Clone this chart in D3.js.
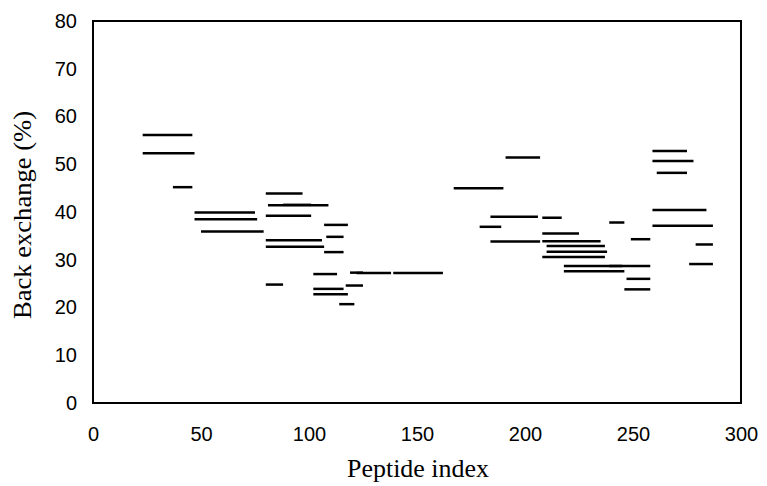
<!DOCTYPE html>
<html>
<head>
<meta charset="utf-8">
<script src="https://cdn.jsdelivr.net/npm/d3@7"></script>
<style>
  body { margin: 0; background: #fff; }
  #chart { width: 767px; height: 486px; }
</style>
</head>
<body>
<div id="chart"></div>
<script>
// peptide segments: start index, end index, back exchange (%)
const segStart = [23, 23, 37, 47, 47, 50, 80, 81, 88, 80, 107, 108, 80, 80, 107, 102, 80, 117, 102, 102,
  114, 119, 122, 139, 167, 191, 184, 208, 179, 184, 208, 208, 210, 210, 208, 218, 239, 218, 239, 249,
  247, 246, 259, 259, 261, 259, 259, 279, 276]
const segEnd = [46, 47, 46, 75, 76, 79, 97, 109, 101, 101, 118, 116, 106, 107, 116, 113, 88, 125, 116, 118,
  121, 125, 138, 162, 190, 207, 206, 217, 189, 207, 225, 235, 237, 238, 237, 245, 258, 246, 246, 258,
  258, 258, 275, 278, 275, 284, 287, 287, 287]
const segValue = [56.1, 52.3, 45.2, 39.9, 38.5, 35.9, 43.9, 41.4, 41.5, 39.2, 37.3, 34.8, 34.1, 32.7, 31.6, 27.0, 24.8, 24.6, 23.9, 22.8,
  20.7, 27.3, 27.2, 27.2, 45.0, 51.4, 39.0, 38.8, 36.9, 33.8, 35.5, 33.9, 32.9, 31.7, 30.6, 28.7, 28.7, 27.6, 37.8, 34.3,
  26.0, 23.8, 52.8, 50.7, 48.2, 40.4, 37.1, 33.2, 29.1]

const xTicks = [0, 50, 100, 150, 200, 250, 300]
const yTicks = [0, 10, 20, 30, 40, 50, 60, 70, 80]

const margin = { top: 21, right: 26, bottom: 83, left: 93 },
  width = 767 - margin.left - margin.right,
  height = 486 - margin.top - margin.bottom

const data = segStart.map((s, i) => ({ start: s, end: segEnd[i], value: segValue[i] }))

const svg = d3
  .select('#chart')
  .append('svg')
  .attr('width', 767)
  .attr('height', 486)

const g = svg.append('g').attr('transform', `translate(${margin.left},${margin.top})`)

const x = d3.scaleLinear().domain([0, 300]).range([0, width])
const y = d3.scaleLinear().domain([0, 80]).range([height, 0])

// segments
g.selectAll('line.seg')
  .data(data)
  .join('line')
  .attr('class', 'seg')
  .attr('x1', d => x(d.start))
  .attr('x2', d => x(d.end))
  .attr('y1', d => y(d.value))
  .attr('y2', d => y(d.value))
  .attr('stroke', '#000')
  .attr('stroke-width', 2.5)

// plot frame
g.append('rect')
  .attr('width', width)
  .attr('height', height)
  .attr('fill', 'none')
  .attr('stroke', '#000')
  .attr('stroke-width', 2)

// axes (no tick marks, labels only)
const xAxis = g.append('g')
  .attr('transform', `translate(0,${height})`)
  .call(d3.axisBottom(x).tickValues(xTicks).tickSize(0).tickPadding(24))
const yAxis = g.append('g')
  .call(d3.axisLeft(y).tickValues(yTicks).tickSize(0).tickPadding(16))

;[xAxis, yAxis].forEach(a => {
  a.select('.domain').remove()
  a.selectAll('text')
    .attr('font-family', 'Liberation Sans, Arial, sans-serif')
    .attr('font-size', 20)
    .attr('fill', '#000')
})

// axis titles
svg.append('text')
  .attr('x', margin.left + width / 2 + 1)
  .attr('y', 477)
  .attr('text-anchor', 'middle')
  .attr('font-family', 'Liberation Serif, Times New Roman, serif')
  .attr('font-size', 25)
  .attr('textLength', 142)
  .attr('lengthAdjust', 'spacingAndGlyphs')
  .text('Peptide index')

svg.append('text')
  .attr('transform', `translate(31,215) rotate(-90)`)
  .attr('text-anchor', 'middle')
  .attr('font-family', 'Liberation Serif, Times New Roman, serif')
  .attr('font-size', 25)
  .attr('textLength', 208)
  .attr('lengthAdjust', 'spacingAndGlyphs')
  .text('Back exchange (%)')
</script>
</body>
</html>
